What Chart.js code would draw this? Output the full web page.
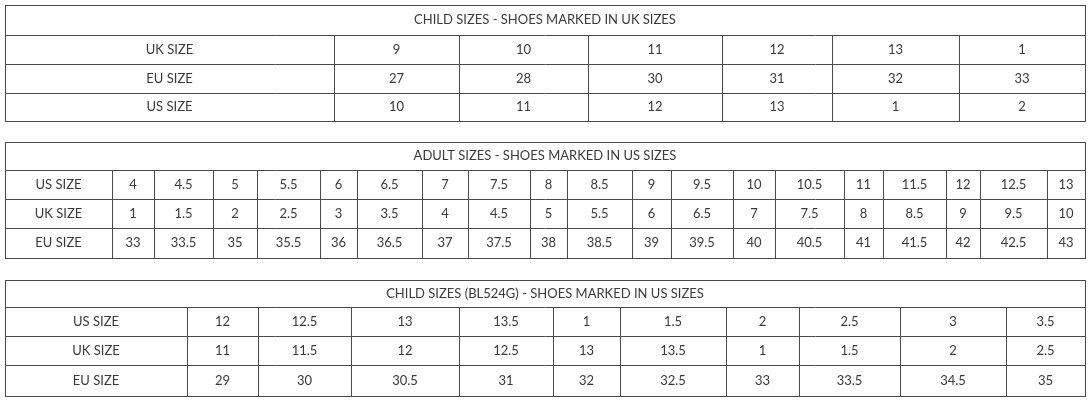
<!DOCTYPE html>
<html>
<head>
<meta charset="utf-8">
<script src="https://cdn.jsdelivr.net/npm/chart.js@4"></script>
<style>
  body { margin: 0; background: #fff; }
</style>
</head>
<body>
<canvas id="chart" width="1092" height="402"></canvas>
<script>
// table data
const rowLabels = ["UK SIZE", "EU SIZE", "US SIZE"];
const childUk = ["9", "10", "11", "12", "13", "1"];
const childEu = ["27", "28", "30", "31", "32", "33"];
const childUs = ["10", "11", "12", "13", "1", "2"];

const adultLabels = ["US SIZE", "UK SIZE", "EU SIZE"];
const adultUs = ["4", "4.5", "5", "5.5", "6", "6.5", "7", "7.5", "8", "8.5", "9", "9.5", "10", "10.5", "11", "11.5", "12", "12.5", "13"];
const adultUk = ["1", "1.5", "2", "2.5", "3", "3.5", "4", "4.5", "5", "5.5", "6", "6.5", "7", "7.5", "8", "8.5", "9", "9.5", "10"];
const adultEu = ["33", "33.5", "35", "35.5", "36", "36.5", "37", "37.5", "38", "38.5", "39", "39.5", "40", "40.5", "41", "41.5", "42", "42.5", "43"];

const bl524Labels = ["US SIZE", "UK SIZE", "EU SIZE"];
const bl524Us = ["12", "12.5", "13", "13.5", "1", "1.5", "2", "2.5", "3", "3.5"];
const bl524Uk = ["11", "11.5", "12", "12.5", "13", "13.5", "1", "1.5", "2", "2.5"];
const bl524Eu = ["29", "30", "30.5", "31", "32", "32.5", "33", "33.5", "34.5", "35"];

const titles = [
  "CHILD SIZES - SHOES MARKED IN UK SIZES",
  "ADULT SIZES - SHOES MARKED IN US SIZES",
  "CHILD SIZES (BL524G) - SHOES MARKED IN US SIZES"
];

// layout (in scale units)
const tables = [
  { title: titles[0], labels: rowLabels, rows: [childUk, childEu, childUs],
    top: 5, rowsY: [35, 64, 93, 121],
    cols: [5, 334, 459, 588, 722, 832, 959, 1085] },
  { title: titles[1], labels: adultLabels, rows: [adultUs, adultUk, adultEu],
    top: 142, rowsY: [170, 199, 228, 258],
    cols: [5, 112, 154, 213, 257, 320, 357, 422, 468, 530, 567, 632, 671, 733, 775, 844, 883, 946, 980, 1047, 1085] },
  { title: titles[2], labels: bl524Labels, rows: [bl524Us, bl524Uk, bl524Eu],
    top: 280, rowsY: [307, 336, 365, 396],
    cols: [5, 187, 258, 351, 459, 553, 620, 726, 799, 900, 1006, 1085] }
];

const tablePlugin = {
  id: "tables",
  afterDraw(chart) {
    const ctx = chart.ctx;
    const sx = chart.scales.x, sy = chart.scales.y;
    const X = v => Math.round(sx.getPixelForValue(v)) + 0.5;
    const Y = v => Math.round(sy.getPixelForValue(v)) + 0.5;
    ctx.save();
    ctx.strokeStyle = "#4a4a4a";
    ctx.lineWidth = 1;
    ctx.fillStyle = "#3a3a3a";
    ctx.font = "13px Lato, 'Open Sans', sans-serif";
    ctx.textAlign = "center";
    ctx.textBaseline = "middle";
    tables.forEach(t => {
      const left = t.cols[0], right = t.cols[t.cols.length - 1];
      const bottom = t.rowsY[t.rowsY.length - 1];
      ctx.strokeRect(X(left), Y(t.top), X(right) - X(left), Y(bottom) - Y(t.top));
      ctx.beginPath();
      t.rowsY.slice(0, -1).forEach(y => {
        ctx.moveTo(X(left), Y(y)); ctx.lineTo(X(right), Y(y));
      });
      t.cols.slice(1, -1).forEach(x => {
        ctx.moveTo(X(x), Y(t.rowsY[0])); ctx.lineTo(X(x), Y(bottom));
      });
      ctx.stroke();
      ctx.fillText(t.title, sx.getPixelForValue((left + right) / 2), sy.getPixelForValue((t.top + t.rowsY[0]) / 2));
      t.rows.forEach((row, r) => {
        const cy = sy.getPixelForValue((t.rowsY[r] + t.rowsY[r + 1]) / 2);
        const cells = [t.labels[r]].concat(row);
        cells.forEach((txt, c) => {
          ctx.fillText(txt, sx.getPixelForValue((t.cols[c] + t.cols[c + 1]) / 2), cy);
        });
      });
    });
    ctx.restore();
  }
};

new Chart(document.getElementById("chart"), {
  type: "scatter",
  data: { datasets: [{ data: [] }] },
  options: {
    responsive: false,
    animation: false,
    layout: { padding: 0 },
    plugins: { legend: { display: false }, tooltip: { enabled: false } },
    scales: {
      x: { type: "linear", min: 0, max: 1092, display: false },
      y: { type: "linear", min: 0, max: 402, reverse: true, display: false }
    }
  },
  plugins: [tablePlugin]
});
</script>
</body>
</html>
